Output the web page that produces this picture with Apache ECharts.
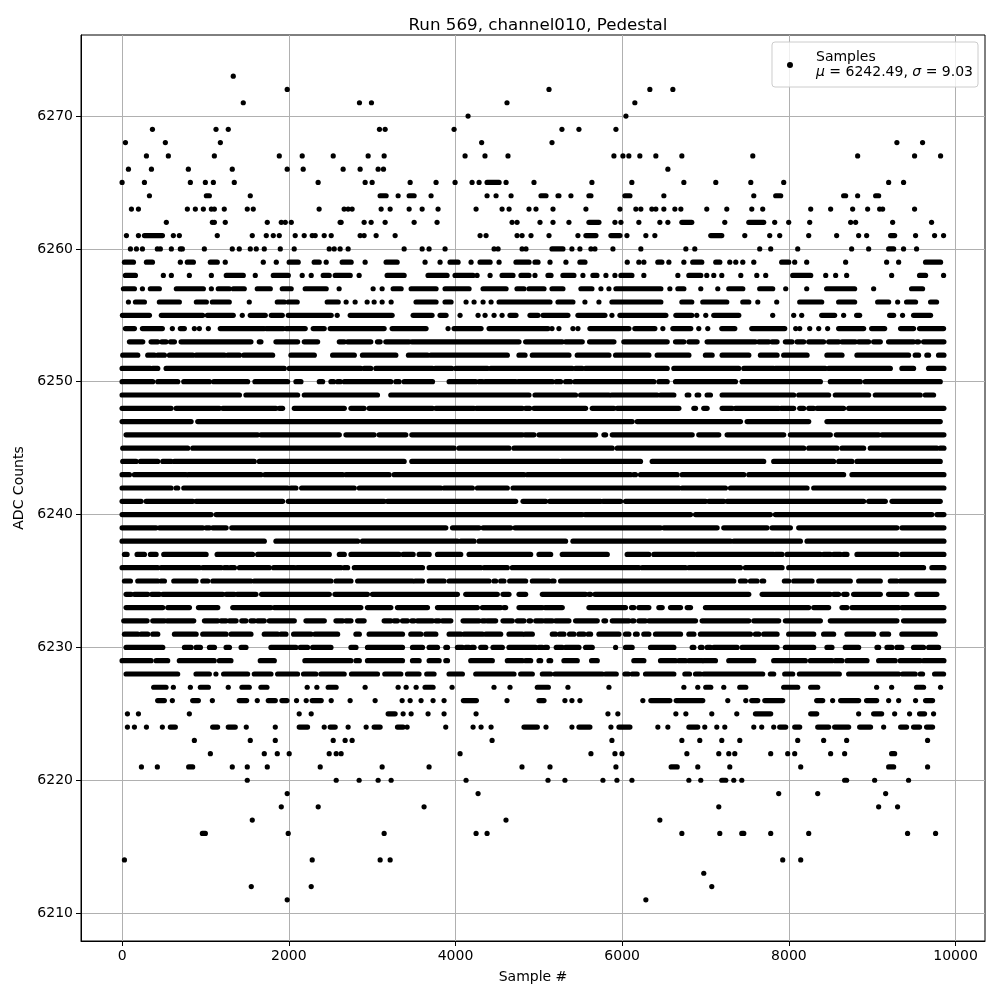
<!DOCTYPE html>
<html>
<head>
<meta charset="utf-8">
<script src="https://cdn.jsdelivr.net/npm/echarts@6/dist/echarts.min.js"></script>
<style>
html,body{margin:0;padding:0;background:#fff;}
#chart{width:1000px;height:1000px;}
</style>
</head>
<body>
<div id="chart"></div>
<script>
// ---- Data: per ADC level, sample numbers of single dots,
// ---- or [first, last] sample of a visually continuous string of dots.
const titleText = "Run 569, channel010, Pedestal";
const xTicks = [0, 2000, 4000, 6000, 8000, 10000];
const yTicks = [6210, 6220, 6230, 6240, 6250, 6260, 6270];

const row6273 = [1334];
const row6272 = [1981, 5122, 6332, 6608];
const row6271 = [1454, 2848, 2992, 4618, 6152];
const row6270 = [4151, 6045];
const row6269 = [364, 1127, 1274, 3088, 3156, 3983, 5277, 5481, 5925];
const row6268 = [40, 519, 1179, 4314, 5158, 9296, 9604];
const row6267 = [292, 555, 1107, 1886, 2161, 2533, 2952, 3144, 4115, 4354, 4630, 5901, 6009, 6080, 6212, 6404, 6716, 7567, 8825, 9508, 9820];
const row6266 = [76, 352, 795, 1322, 1981, 2173, 2652, 2856, 3072, 3136, 6548];
const row6265 = [0, 268, 819, 999, 1095, 1346, 2352, 2916, 3000, 3456, 3767, 3995, 4199, 4283, [4379, 4523], 4607, 4942, 5637, 6116, 6740, 7123, 7543, 7938, 9197, 9376];
const row6264 = [328, [1011, 1047], 1538, [3096, 3168], 3312, [3444, 3504], 3707, 4379, 4487, 4667, [5026, 5086], [5230, 5241], 5385, [5601, 5625], [6033, 6093], 6500, 7579, [7842, 7902], [8657, 8681], 8825, [9041, 9077]];
const row6263 = [112, 196, 783, 879, 975, 1071, 1107, 1226, 1502, 1574, 2364, 2664, 2712, 2760, 3108, 3216, 3444, 3600, 3791, 4247, 4559, 4643, 4882, 4966, 5170, 5565, 5973, 6164, 6224, 6356, 6404, 6500, 6632, 6704, 7015, 7255, 7555, 7686, 8262, 8501, 8765, 8945, 9089, 9125, 9508];
const row6262 = [531, 1083, 1107, 1238, 1742, 1910, 1958, 2030, 2616, 2628, 2904, 2988, 3156, 3504, 3779, 4679, 4739, 5014, 5170, 5361, [5601, 5721], 5913, 5985, 6200, 6452, 6548, [6716, 6835], 7231, [7519, 7698], 7830, 7998, 8250, 8741, 8801, 9245, 9712];
const row6261 = [52, 196, [268, 484], 615, 687, 1142, 1562, 1730, 1814, 1886, 2077, 2185, 2281, 2317, 2425, 2509, 2856, 2904, 3048, 3276, 4295, 4367, 4739, 4799, 4906, 5122, 5469, [5565, 5685], [5865, 5973], 6057, 6284, 6392, [7063, 7195], 7471, 7770, 7890, 8238, 8573, 8837, 8933, [9221, 9269], 9520, 9748, 9856];
const row6260 = [100, 172, 244, 423, 459, 591, 699, 723, 987, 1322, 1406, 1538, 1610, 1706, 1898, 2065, 2485, 2545, 2616, 2712, 3384, 3600, 3683, 3875, 4463, 4511, 4799, 4846, [5158, 5289], 5397, 5493, 5625, 5673, 5889, 6224, 6764, 6871, 7650, 7782, 8106, 8753, 8957, [9197, 9257], 9376, 9532];
const row6259 = [[28, 136], [292, 364], 699, [783, 855], [1059, 1142], 1238, 1694, 1850, [2005, 2113], [2305, 2365], 2449, [2641, 2748], 2916, [3168, 3300], 3635, 3815, [3935, 4031], 4187, [4295, 4415], 4523, [4726, 4882], [4954, 4990], 5134, 5325, [5493, 5553], 6061, 6200, 6260, [6428, 6476], 6560, 6740, [6847, 6955], [7123, 7171], 7291, 7363, 7447, 7579, [7914, 7998], 8070, 8214, 8681, 9173, 9317, [9640, 9820]];
const row6258 = [[40, 160], 495, 591, 807, 1071, [1250, 1454], 1598, [1814, 1994], 2161, 2269, [2413, 2485], [2557, 2737], 2844, [3180, 3384], [3671, 3899], [3995, 4211], 4259, 4415, [4559, 4690], [4786, 4882], 4954, [5110, 5146], [5289, 5421], 5529, [5649, 5697], 5805, 5913, [5985, 6117], 6260, 6668, [6800, 6943], 7015, 7099, 7195, 7423, 7615, 7722, [8046, 8262], 8442, 8561, 8693, 9233, [9568, 9640], 9856];
const row6257 = [[16, 148], 244, [339, 447], [651, 975], 1071, [1154, 1286], [1334, 1466], [1622, 1778], [1922, 2029], [2197, 2449], 2604, 3012, 3120, [3252, 3348], [3468, 3767], [3875, 4163], [4331, 4607], [4738, 4822], [4882, 5062], [5158, 5289], [5505, 5637], 5745, 5841, [5925, 6464], 6572, [6668, 6740], 6943, 7147, [7279, 7447], [7650, 7806], 7962, 8214, [8453, 8789], 9017, [9472, 9604]];
const row6256 = [76, [160, 268], [447, 687], [891, 1011], [1083, 1286], 1526, [1862, 1946], [1994, 2101], [2461, 2593], 2688, 2796, 2940, 3024, 3120, 3228, [3527, 3767], [3875, 3947], 4127, 4223, 4331, 4427, [4523, 5134], [5230, 5409], 5553, 5721, [5877, 6464], [6716, 6835], [6967, 7255], [7447, 7519], 7627, 7854, [8130, 8394], [8597, 8789], [9065, 9197], 9305, [9412, 9520], [9700, 9772]];
const row6255 = [[4, 328], [471, 967], [1023, 1334], 1442, [1538, 1718], [1790, 1922], [1994, 2509], 2581, [2737, 3240], [3492, 3719], [3815, 3887], 4055, 4271, 4355, 4463, 4559, [4654, 4726], [4894, 4990], [5050, 5349], [5469, 5793], 5877, [5973, 6524], [6644, 6835], 6895, 7003, [7099, 7399], 7806, 8058, 8154, [8394, 8549], 8657, [8813, 8849], [9209, 9257], 9364, [9496, 9700]];
const row6254 = [[40, 148], [244, 483], 603, [699, 747], 867, 927, 1035, [1178, 1706], [1730, 1934], [1970, 2197], [2293, 2425], [2497, 3144], [3240, 3647], 3911, [3983, 4307], [4403, 5110], 5158, 5241, 5409, 5469, [5613, 6081], [6152, 6392], 6488, [6608, 6823], 6919, 7027, [7195, 7351], [7555, 7950], 8082, 8130, 8250, 8358, 8465, [8597, 8897], [8993, 9149], [9340, 9496], [9568, 9856]];
const row6253 = [[88, 248], [348, 428], [476, 528], [580, 628], [708, 1546], [1646, 1666], [1846, 2106], [2186, 2346], [2606, 2666], [2706, 2984], [3064, 3096], [3164, 3444], [3476, 4762], [4842, 5281], [5321, 5521], [5609, 5901], [6020, 6540], [6640, 6740], [6800, 6899], [7019, 7598], [7638, 7758], [7798, 7858], [7958, 8038], [8098, 8178], [8238, 8417], [8477, 8597], [8637, 8797], [8837, 8957], [9017, 9097], [9196, 9496], [9536, 9556], [9616, 9860]];
const row6252 = [[8, 188], [308, 388], [428, 508], [568, 848], [888, 1228], [1268, 1408], [1460, 1806], [2026, 2306], [2526, 2786], [2884, 3284], [3436, 3664], [3704, 4622], [4762, 4834], [4922, 5361], [5461, 5841], [5921, 6320], [6420, 6800], [6999, 7079], [7199, 7519], [7659, 7858], [7938, 8218], [8457, 8637], [8817, 9436], [9516, 9556], [9656, 9676], [9796, 9860]];
const row6251 = [[0, 340], [368, 428], [528, 1946], [2006, 2864], [2904, 2984], [3044, 3724], [3756, 3955], [4003, 4383], [4422, 5401], [5441, 5521], [5561, 6540], [6620, 7399], [7459, 7818], [7838, 8437], [8477, 9217], [9356, 9496], [9676, 9860]];
const row6250 = [[0, 368], [428, 668], [740, 1048], [1100, 1506], [1594, 1986], [2086, 2146], [2366, 2406], [2506, 2538], [2586, 2618], [2666, 3224], [3284, 3324], [3384, 3724], [3924, 4243], [4283, 4323], [4355, 4722], [4754, 5162], [5209, 5261], [5321, 5381], [5433, 6380], [6440, 6540], [6640, 7359], [7439, 8378], [8497, 8857], [8917, 9816]];
const row6249 = [[0, 1408], [1486, 2106], [2186, 3064], [3224, 4882], [4954, 5441], [5501, 5841], [5873, 6420], [6460, 6620], [6780, 6800], [6899, 6919], [7019, 7059], [7199, 8058], [8118, 8477], [8557, 8957], [9037, 9576], [9636, 9736]];
const row6248 = [[0, 588], [648, 1168], [1208, 1846], [1886, 1926], [2066, 2666], [2746, 2904], [2964, 3724], [3764, 4223], [4251, 4802], [4842, 4890], [4942, 5561], [5641, 5901], [5941, 6680], [6860, 6880], [6979, 7019], [7199, 7319], [7359, 7878], [7906, 8058], [8130, 8178], [8238, 8298], [8338, 8657], [8717, 9860]];
const row6247 = [[0, 828], [908, 6120], [6180, 7419], [7499, 8238], [8457, 9816]];
const row6246 = [[48, 1626], [1666, 2606], [2686, 3024], [3084, 3404], [3476, 4802], [4834, 4942], [5002, 5681], [5781, 5801], [5881, 6840], [6919, 7159], [7259, 7938], [8018, 8497], [8569, 9077], [9117, 9860]];
const row6245 = [[8, 788], [848, 3984], [4043, 4642], [4702, 5881], [5941, 8178], [8238, 8577], [8637, 8897], [8977, 9776], [9816, 9860]];
const row6244 = [[8, 168], [220, 428], [488, 588], [628, 1586], [1646, 3384], [3476, 5241], [5273, 6220], [6360, 7698], [7818, 8537], [8597, 8757], [8817, 9816]];
const row6243 = [[0, 88], [148, 768], [796, 1666], [1714, 2646], [2686, 3204], [3264, 4822], [4862, 6100], [6140, 6160], [6220, 6660], [6720, 7459], [7519, 8657], [8757, 9860]];
const row6242 = [[0, 588], [648, 668], [740, 1986], [2026, 2086], [2154, 2786], [2846, 3824], [3864, 4203], [4263, 4622], [4690, 6680], [6720, 7239], [7299, 8218], [8298, 9860]];
const row6241 = [[0, 228], [288, 848], [888, 1926], [1994, 3144], [3184, 4722], [4810, 5082], [5130, 5741], [5769, 5981], [6040, 7000], [7039, 7219], [7259, 8897], [8957, 9157], [9237, 9816]];
const row6240 = [[0, 1068], [1128, 5521], [5553, 6820], [6880, 7778], [7838, 9716], [9776, 9860]];
const row6239 = [[0, 408], [448, 968], [1008, 1048], [1088, 1248], [1316, 3884], [3964, 4283], [4331, 4662], [4714, 6460], [6500, 7139], [7219, 7738], [7798, 8018], [8118, 9296], [9356, 9860]];
const row6238 = [[0, 1706], [1846, 2826], [2884, 4023], [4063, 4223], [4283, 5321], [5409, 7299], [7339, 8138], [8218, 9860]];
const row6237 = [[28, 60], [180, 268], [340, 408], [500, 1008], [1140, 1566], [1626, 2486], [2606, 2666], [2746, 3324], [3372, 3492], [3564, 3684], [3784, 4063], [4163, 4902], [5002, 5142], [5281, 5821], [6060, 6320], [6380, 6860], [6899, 7818], [7838, 7918], [7978, 8378], [8417, 8497], [8537, 8617], [8657, 8697], [8817, 9296], [9356, 9860]];
const row6236 = [[0, 428], [468, 928], [968, 1188], [1228, 1268], [1300, 1348], [1408, 1766], [1818, 2066], [2098, 2626], [2666, 2706], [2786, 3604], [3684, 4303], [4343, 4622], [4682, 6200], [6240, 6760], [6800, 7419], [7479, 7918], [7998, 9616], [9716, 9860]];
const row6235 = [[28, 100], [188, 428], [468, 508], [620, 888], [968, 1028], [1088, 1546], [1586, 2506], [2566, 2746], [2826, 3484], [3516, 3604], [3684, 3864], [3924, 4403], [4462, 4482], [4542, 4582], [4650, 4842], [4922, 5122], [5162, 5182], [5261, 7339], [7419, 7479], [7539, 7619], [7679, 7698], [7946, 7998], [8058, 8278], [8358, 8737], [8837, 9097], [9217, 9296], [9336, 9860]];
const row6234 = [[48, 108], [148, 308], [356, 448], [488, 1208], [1248, 1348], [1380, 1606], [1674, 2486], [2554, 2944], [3004, 4023], [4123, 4502], [4570, 4642], [4762, 4842], [5042, 5561], [5601, 5621], [5673, 7519], [7679, 8497], [8537, 8597], [8657, 8697], [8777, 9097], [9196, 9416], [9536, 9776]];
const row6233 = [[48, 488], [548, 808], [916, 1148], [1328, 1786], [1826, 2864], [2944, 3224], [3304, 3664], [3784, 4263], [4323, 4542], [4582, 4602], [4762, 5042], [5074, 5281], [5601, 6040], [6112, 6140], [6200, 6320], [6440, 6480], [6580, 6700], [6780, 6820], [6999, 8238], [8298, 8477], [8637, 8697], [8757, 9316], [9356, 9860]];
const row6232 = [[20, 300], [368, 508], [540, 860], [988, 1148], [1188, 1248], [1288, 1368], [1436, 1486], [1546, 1586], [1626, 1706], [1766, 2066], [2206, 2426], [2566, 2646], [2686, 2746], [2826, 2904], [3144, 3224], [3264, 3304], [3364, 3424], [3476, 3504], [3544, 3724], [3764, 3804], [3844, 3944], [4091, 4283], [4323, 4355], [4383, 4482], [4570, 4682], [4742, 4822], [4882, 4902], [4962, 5042], [5074, 5162], [5201, 5361], [5441, 5701], [5781, 5801], [5881, 6080], [6120, 6140], [6200, 6280], [6320, 6880], [6959, 7519], [7579, 7878], [7958, 8378], [8497, 9296], [9376, 9860]];
const row6231 = [[28, 188], [228, 308], [368, 428], [628, 888], [968, 1248], [1308, 1546], [1706, 1866], [1906, 1966], [2058, 2266], [2314, 2586], [2806, 2846], [2964, 3364], [3464, 3584], [3644, 3764], [3924, 4063], [4103, 4323], [4363, 4542], [4642, 4802], [4834, 4922], [5162, 5201], [5249, 5301], [5369, 5421], [5481, 5541], [5593, 5621], [5721, 5961], [6040, 6080], [6160, 6180], [6260, 6320], [6400, 6700], [6800, 6860], [6939, 7539], [7599, 7639], [7698, 7858], [7998, 8298], [8417, 8537], [8697, 9017], [9117, 9196], [9356, 9756]];
const row6230 = [[48, 488], [748, 828], [888, 940], [1048, 1108], [1248, 1288], [1428, 1486], [1786, 2086], [2138, 2226], [2286, 2506], [2746, 2806], [2944, 3364], [3484, 3604], [3684, 3784], [3884, 3904], [4023, 4083], [4123, 4163], [4195, 4223], [4303, 4363], [4450, 4562], [4642, 4962], [5002, 5042], [5074, 5102], [5209, 5281], [5321, 5481], [5561, 5641], 5921, [6040, 6120], [6340, 6620], [6840, 6860], [6939, 6959], [7019, 7059], [7099, 7379], [7439, 7858], [7958, 8298], [8457, 8517], [8677, 8837], [9057, 9077], [9177, 9237], [9296, 9356], [9496, 9616], [9676, 9796]];
const row6229 = [[0, 348], [408, 547], [687, 1106], [1167, 1306], [1658, 1826], [2193, 2745], [2806, 2846], [2944, 3364], [3484, 3564], [3684, 3804], [3884, 3904], [4183, 4442], [4622, 4802], [4842, 4902], [5002, 5022], [5122, 5142], [5301, 5461], [5633, 5701], [6140, 6260], [6460, 6640], [6680, 6760], [6800, 6959], [6979, 7119], [7279, 7579], [7818, 8198], [8258, 8517], [8557, 8637], [8697, 8937], [9077, 9276], [9336, 9576], [9616, 9860]];
const row6228 = [[48, 667], [887, 1047], 1126, [1218, 1506], [1586, 1786], [1866, 2105], [2177, 2325], [2385, 2665], [2752, 3064], [3152, 3344], [3424, 3563], [3655, 3743], [3923, 4083], [4243, 4702], [4782, 4922], [5042, 5142], [5194, 5761], [5801, 5929], [6033, 6073], [6120, 6180], [6280, 6620], [6752, 6808], [6880, 6939], [6979, 7686], [7778, 7818], [7950, 8046], [8126, 8605], [8717, 9317], [9364, 9516], [9576, 9604], [9748, 9856]];
const row6227 = [[379, 527], 615, 819, [939, 1035], 1274, [1438, 1526], [1666, 1738], 2221, 2337, [2473, 2568], 2916, 3312, 3408, 3528, [3635, 3731], 3959, 4462, 4654, [4982, 5114], 5349, 5841, 6740, 6907, [7003, 7063], 7219, [7411, 7483], [7938, 8106], [8262, 8346], 9053, 9233, [9532, 9616], 9820];
const row6226 = [[427, 507], 603, [847, 915], 1083, [1406, 1494], 1622, [1754, 1838], [1918, 1978], 2093, 2209, [2281, 2389], 2509, 2736, 3036, 3360, 3456, 3587, 3731, 3863, [4095, 4251], 4618, [5002, 5062], 5313, 5397, 5493, 6248, [6344, 6572], [6648, 6967], 7267, 7483, [7555, 7627], [7711, 7926], [8334, 8406], 8525, [8621, 8837], [8932, 9053], 9197, 9317, 9520, [9640, 9724]];
const row6225 = [64, 196, 807, 2125, 2269, [3192, 3276], 3372, 3468, 3671, 3863, 4247, 5829, 5948, 6644, 6764, 7075, 7375, [7599, 7782], [8262, 8334], 8837, [9017, 9113], 9269, 9448, [9568, 9628], 9736];
const row6224 = [64, 148, 292, 483, [579, 639], [1087, 1146], [1274, 1358], 1490, 1838, [2125, 2225], 2425, [2497, 2557], 2712, 2928, [3024, 3096], [3304, 3372], 3420, 3883, 4211, 4307, 4427, [4822, 4982], 5086, 5397, [5481, 5613], 5865, [5961, 6093], 6428, 6548, [6800, 6907], 6991, 7135, 7231, 7579, 7674, 7818, [7890, 7962], [8070, 8130], [8346, 8477], [8549, 8717], [8849, 8980], 9137, [9341, 9412], [9496, 9568], [9652, 9724]];
const row6223 = [867, 1538, 1838, 2533, 2676, 2760, 4439, 5877, 6716, 6931, 7195, 7411, 8106, 8417, 8693, 9664];
const row6222 = [1059, 1706, 1862, 2005, 2485, 2569, 2628, 4055, 5625, 5913, 5997, 6776, 7159, 7279, 7351, 7782, 7986, 8070, 8501, 8669, [9233, 9269]];
const row6221 = [232, 423, [799, 847], 1322, 1502, 1742, 2377, 3120, 3683, 4798, 5134, 5925, [6588, 6660], 6907, 7291, 8142, [9197, 9257], 9664];
const row6220 = [1502, 2569, 2844, 3072, 3228, 4127, 5110, 5313, 5769, 5937, 6117, 6800, 6943, [7195, 7243], 7339, 7435, [8669, 8693], 9029, 9436];
const row6219 = [1981, 4271, 7878, 8346, 9161];
const row6218 = [1910, 2353, 3623, 7159, 9077, 9304];
const row6217 = [1562, 4606, 6452];
const row6216 = [[963, 999], 1993, 3144, 4247, 4379, 6716, 7171, [7435, 7459], 7782, 8238, 9424, 9760];
const row6214 = [28, 2281, 3096, 3216, 7926, 8142];
const row6213 = [6979];
const row6212 = [1550, 2269, 7075];
const row6211 = [1981, 6284];

const levelRows = [
  [6273, row6273], [6272, row6272], [6271, row6271], [6270, row6270], [6269, row6269],
  [6268, row6268], [6267, row6267], [6266, row6266], [6265, row6265], [6264, row6264],
  [6263, row6263], [6262, row6262], [6261, row6261], [6260, row6260], [6259, row6259],
  [6258, row6258], [6257, row6257], [6256, row6256], [6255, row6255], [6254, row6254],
  [6253, row6253], [6252, row6252], [6251, row6251], [6250, row6250], [6249, row6249],
  [6248, row6248], [6247, row6247], [6246, row6246], [6245, row6245], [6244, row6244],
  [6243, row6243], [6242, row6242], [6241, row6241], [6240, row6240], [6239, row6239],
  [6238, row6238], [6237, row6237], [6236, row6236], [6235, row6235], [6234, row6234],
  [6233, row6233], [6232, row6232], [6231, row6231], [6230, row6230], [6229, row6229],
  [6228, row6228], [6227, row6227], [6226, row6226], [6225, row6225], [6224, row6224],
  [6223, row6223], [6222, row6222], [6221, row6221], [6220, row6220], [6219, row6219],
  [6218, row6218], [6217, row6217], [6216, row6216], [6214, row6214], [6213, row6213],
  [6212, row6212], [6211, row6211]
];

// ---- Build series data from the rows
const dots = [];
const runs = [];
levelRows.forEach(function (r) {
  const lvl = r[0];
  r[1].forEach(function (it) {
    if (Array.isArray(it)) runs.push([it[0], it[1], lvl]);
    else dots.push([it, lvl]);
  });
});

const FONT = 'DejaVu Sans';
const DOT = 5.2;
const plain = function (v) { return String(v); };
const chart = echarts.init(document.getElementById('chart'), null, {renderer: 'canvas'});

const option = {
  animation: false,
  backgroundColor: '#ffffff',
  title: {
    text: titleText,
    left: 533,
    textAlign: 'center',
    top: 12,
    textStyle: {fontFamily: FONT, fontSize: 16.7, fontWeight: 'normal', color: '#000'}
  },
  legend: {
    right: 22,
    top: 42,
    orient: 'vertical',
    padding: [8, 5, 7, 15],
    backgroundColor: 'rgba(255,255,255,0.8)',
    borderColor: '#cccccc',
    borderWidth: 1,
    borderRadius: 3,
    itemWidth: 26,
    itemHeight: 6,
    itemGap: 0,
    data: [{name: 'Samples', icon: 'circle', itemStyle: {color: '#000', opacity: 1}}],
    formatter: function () {
      return 'Samples\n{i|\u03bc} = 6242.49, {i|\u03c3} = 9.03';
    },
    textStyle: {
      fontFamily: FONT, fontSize: 14, color: '#000', lineHeight: 15, padding: [0, 0, 0, 8],
      rich: {i: {fontFamily: FONT, fontSize: 14, fontStyle: 'italic', color: '#000', lineHeight: 15}}
    }
  },
  grid: {
    left: 81, right: 15, top: 35, bottom: 59,
    show: true, borderColor: '#000', borderWidth: 1, backgroundColor: 'transparent'
  },
  xAxis: {
    type: 'value',
    min: -493, max: 10353,
    name: 'Sample #',
    nameLocation: 'middle',
    nameGap: 29,
    nameTextStyle: {fontFamily: FONT, fontSize: 14, color: '#000'},
    axisLine: {show: true, onZero: false, lineStyle: {color: '#000', width: 1}},
    axisTick: {show: true, length: 5, inside: false, customValues: xTicks, lineStyle: {color: '#000', width: 1}},
    axisLabel: {customValues: xTicks, formatter: plain, fontFamily: FONT, fontSize: 14, color: '#000', margin: 8},
    splitLine: {show: true, lineStyle: {color: '#b0b0b0', width: 1}}
  },
  yAxis: {
    type: 'value',
    min: 6207.9, max: 6276.1,
    name: 'ADC Counts',
    nameLocation: 'middle',
    nameGap: 46,
    nameTextStyle: {fontFamily: FONT, fontSize: 14, color: '#000'},
    axisLine: {show: true, onZero: false, lineStyle: {color: '#000', width: 1}},
    axisTick: {show: true, length: 5, inside: false, customValues: yTicks, lineStyle: {color: '#000', width: 1}},
    axisLabel: {customValues: yTicks, formatter: plain, fontFamily: FONT, fontSize: 14, color: '#000', margin: 8},
    splitLine: {show: true, lineStyle: {color: '#b0b0b0', width: 1}}
  },
  series: [
    {
      name: 'Samples',
      type: 'scatter',
      data: dots,
      symbol: 'circle',
      symbolSize: DOT,
      itemStyle: {color: '#000', opacity: 1},
      silent: true
    },
    {
      name: 'Samples',
      type: 'custom',
      data: runs,
      encode: {x: [0, 1], y: 2},
      clip: true,
      silent: true,
      renderItem: function (params, api) {
        const a = api.coord([api.value(0), api.value(2)]);
        const b = api.coord([api.value(1), api.value(2)]);
        return {
          type: 'line',
          shape: {x1: a[0], y1: a[1], x2: b[0], y2: b[1]},
          style: {stroke: '#000', lineWidth: DOT, lineCap: 'round'}
        };
      }
    }
  ]
};
chart.setOption(option);
</script>
</body>
</html>
